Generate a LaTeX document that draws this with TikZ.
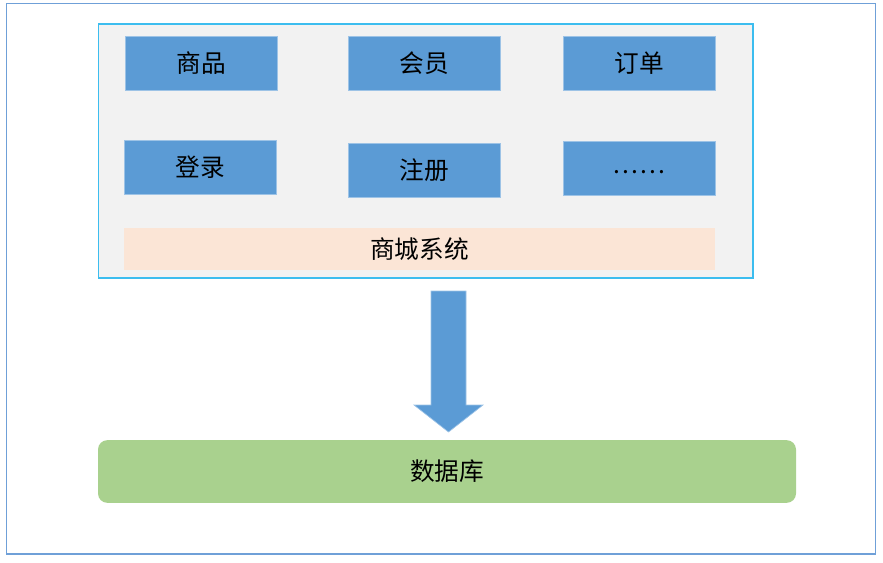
\documentclass[tikz,border=0pt]{standalone}
\usepackage{fontspec}
\setmainfont{Noto Sans CJK SC}
\definecolor{frameblue}{HTML}{6FA0D8}
\definecolor{sysborder}{HTML}{3CBDEF}
\definecolor{sysfill}{HTML}{F2F2F2}
\definecolor{modfill}{HTML}{5B9BD5}
\definecolor{modborder}{HTML}{9DC3E6}
\definecolor{barfill}{HTML}{FBE5D6}
\definecolor{dbfill}{HTML}{A9D18E}
\newcommand{\moredots}{\raisebox{-4pt}[0pt][0pt]{.\kern1.6pt.\kern1.6pt.\kern1.6pt.\kern1.6pt.\kern1.6pt.}}
\begin{document}
\begin{tikzpicture}[x=0.75pt,y=-0.75pt,
  module/.style={draw=modborder,line width=0.5pt,fill=modfill,
    minimum width=114pt,minimum height=40.5pt,inner sep=0pt,
    font=\fontsize{18.5}{20}\selectfont},
  blockarrow/.style={draw=modborder,line width=0.5pt,fill=modfill}]
  \useasboundingbox (0,0) rectangle (883,562);
  \node[draw=frameblue,line width=1pt,minimum width=652pt,minimum height=413pt,inner sep=0pt]
    (frame) at (441,278.5) {};

  % mall system
  \node[draw=sysborder,line width=1pt,fill=sysfill,minimum width=491pt,minimum height=190.5pt,inner sep=0pt]
    (mall) at (425.5,151) {};

  \node[module] (goods) at (201,63) {商品};
  \node[module] (member) at (424.5,63) {会员};
  \node[module] (order) at (639,63) {订单};

  \node[module] (login) at (200,167.5) {登录};
  \node[module] (register) at (424.5,170) {注册};
  \node[module] (more) at (639,168) {\moredots};

  \node[fill=barfill,minimum width=443pt,minimum height=31.5pt,inner sep=0pt,
    font=\fontsize{18.5}{20}\selectfont] (mallname) at (419.5,249) {商城系统};

  % database
  \node[fill=dbfill,rounded corners=7pt,minimum width=523.5pt,minimum height=47pt,inner sep=0pt,
    font=\fontsize{18.5}{20}\selectfont] (db) at (447,471.5) {数据库};

  \coordinate (arrtop) at (448.5,291);
  \coordinate (arrtip) at (448.5,432);
  \path[blockarrow] (arrtop) ++(-17.5,0) -- ++(35,0) -- (466,405) -- (483,405)
    -- (arrtip) -- (414,405) -- (431,405) -- cycle;
\end{tikzpicture}
\end{document}
